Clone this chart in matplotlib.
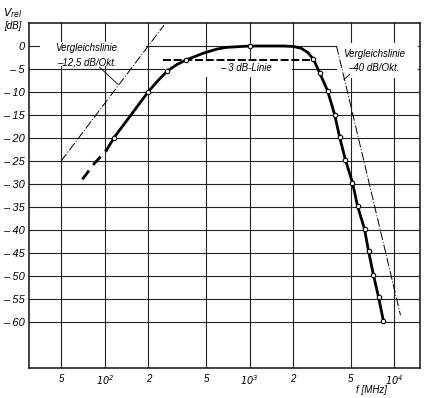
import matplotlib
matplotlib.use("Agg")
import matplotlib.pyplot as plt
from matplotlib.patches import Rectangle

plt.rcParams['font.family'] = ['Liberation Sans Narrow', 'Liberation Sans', 'DejaVu Sans']
plt.rcParams['font.style'] = 'italic'
plt.rcParams['mathtext.fontset'] = 'custom'
plt.rcParams['mathtext.it'] = 'Liberation Sans Narrow:italic'
plt.rcParams['mathtext.rm'] = 'Liberation Sans Narrow:italic'

# measured response (f in MHz, V_rel in dB); is_meas marks the circled points
curve_f = [70, 85, 103, 116, 150, 200, 235, 271, 316, 366, 476, 590, 690, 1000,
           1700, 2000, 2270, 2520, 2760, 3040, 3450, 3860, 4180, 4590, 5130,
           5560, 6210, 6620, 7160, 7760, 8390]
curve_db = [-29, -25.5, -22.6, -19.9, -15.2, -9.9, -7.4, -5.4, -4.0, -3.0, -1.6,
            -0.7, -0.3, 0, 0, -0.1, -0.5, -1.4, -2.9, -5.8, -9.7, -14.9, -19.8,
            -24.8, -29.7, -34.8, -39.8, -44.6, -49.8, -54.6, -59.8]
is_meas = [0, 0, 0, 1, 0, 1, 0, 1, 0, 1, 0, 0, 0, 1,
           0, 0, 0, 0, 1, 1, 1, 1, 1, 1, 1, 1, 1, 1, 1, 1, 1]
n_dashed = 3  # extrapolated low-frequency part drawn dashed

# comparison lines
ref_lo_f = [50, 256]
ref_lo_db = [-25, 4.5]
ref_hi_f = [3980, 11000]
ref_hi_db = [0, -58.5]
line3_f = [251, 2680]
line3_db = [-3, -3]

xticks = [50, 100, 200, 500, 1000, 2000, 5000, 10000]
xlabels = ['5', r'$10^{2}$', '2', '5', r'$10^{3}$', '2', '5', r'$10^{4}$']
yticks = list(range(0, -65, -5))
ylabels = ['0'] + ['\u2013 %d' % -v for v in yticks[1:]]

fig = plt.figure(figsize=(4.34, 3.98), dpi=100)
ax = fig.add_axes([29 / 434, 30 / 398, 391 / 434, 345 / 398])
ax.set_xscale('log')
ax.set_xlim(30, 15000)
ax.set_ylim(-70, 5)

ax.set_xticks(xticks)
ax.set_xticklabels(xlabels)
ax.xaxis.set_minor_locator(matplotlib.ticker.NullLocator())
ax.set_yticks(yticks)
ax.set_yticklabels(ylabels)
ax.tick_params(axis='both', length=0)
ax.tick_params(axis='x', pad=4, labelsize=7)
ax.tick_params(axis='y', pad=3, labelsize=8)
ax.grid(True, color='#222222', linewidth=0.8)
for s in ax.spines.values():
    s.set_linewidth(1.1)
    s.set_color('#111111')

# white fields behind the labels (grid is interrupted there)
for x0, y0, w, h in [(0.028, 0.875, 0.271, 0.070),
                     (0.348, 0.843, 0.325, 0.047),
                     (0.788, 0.841, 0.207, 0.101)]:
    ax.add_patch(Rectangle((x0, y0), w, h, transform=ax.transAxes,
                           facecolor='white', edgecolor='none', zorder=1.8))

# comparison lines
ax.plot(ref_lo_f, ref_lo_db, color='black', lw=0.7, ls=(0, (9, 2, 1, 2)), zorder=3)
ax.plot(ref_hi_f, ref_hi_db, color='black', lw=0.7, ls=(0, (9, 2, 1, 2)), zorder=3)
ax.plot(line3_f, line3_db, color='black', lw=1.4, ls=(0, (4.1, 1.4)), zorder=3)

# main curve
ax.plot(curve_f[:n_dashed], curve_db[:n_dashed], color='black', lw=2.0,
        ls=(0, (4, 2.5)), zorder=4)
ax.plot(curve_f[n_dashed - 1:], curve_db[n_dashed - 1:], color='black', lw=2.0,
        zorder=4)
mf = [f for f, m in zip(curve_f, is_meas) if m]
md = [d for d, m in zip(curve_db, is_meas) if m]
ax.plot(mf, md, 'o', ms=3.2, mfc='white', mec='black', mew=0.8, zorder=5)

ax.text(75, -2.0, 'Vergleichslinie\n\u201312,5 dB/Okt.', fontsize=7, ha='center',
        va='center', linespacing=1.5, zorder=3)
ax.plot([92, 123], [-4.6, -8.3], color='black', lw=0.6, zorder=3)
ax.text(7200, -3.3, 'Vergleichslinie\n\u201340 dB/Okt.', fontsize=7, ha='center',
        va='center', linespacing=1.5, zorder=3)
ax.plot([4900, 4480], [-6.2, -7.3], color='black', lw=0.6, zorder=3)
ax.text(950, -4.8, '\u2013 3 dB-Linie', fontsize=7, ha='center', va='center',
        zorder=3)

ax.text(0.877, -0.064, 'f [MHz]', transform=ax.transAxes, fontsize=7,
        ha='center', va='center')
fig.text(0.030, 0.967, r'$V_{rel}$', fontsize=8, ha='center', va='center')
fig.text(0.030, 0.935, '[dB]', fontsize=7, ha='center', va='center')

fig.savefig('out.png', dpi=100)
